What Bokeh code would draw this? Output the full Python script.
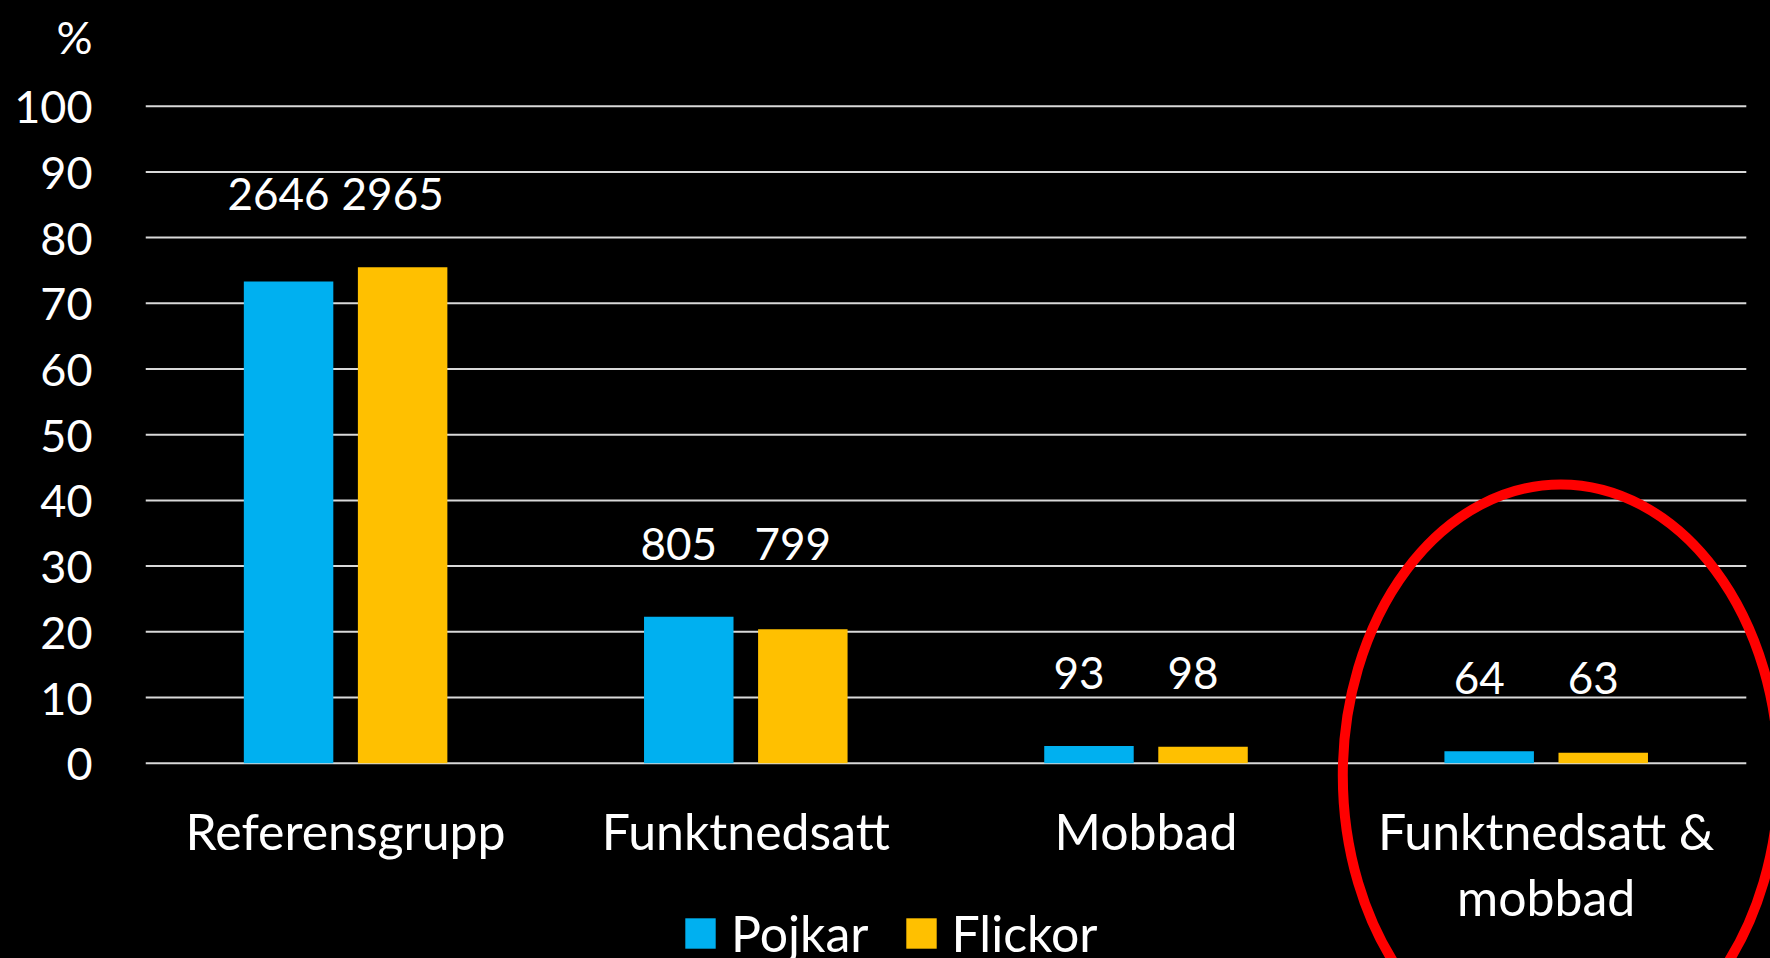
import numpy as np
from bokeh.plotting import figure
from bokeh.models import Range1d, FixedTicker, Legend, LegendItem
from bokeh.core.properties import value
from bokeh.embed import file_html
from bokeh.resources import INLINE

# ---------------- data ----------------
categories = ["Referensgrupp", "Funktnedsatt", "Mobbad", "Funktnedsatt &\nmobbad"]
series_names = ["Pojkar", "Flickor"]
pojkar_pct = [73.3, 22.3, 2.6, 1.8]
flickor_pct = [75.5, 20.4, 2.5, 1.6]
pojkar_n = [2646, 805, 93, 64]
flickor_n = [2965, 799, 98, 63]
y_ticks = [0, 10, 20, 30, 40, 50, 60, 70, 80, 90, 100]
y_unit_label = "%"
highlighted = "Funktnedsatt &\nmobbad"

# ---------------- layout / style ----------------
W, H = 1770, 958
LEFT = 145
PX_PER_UNIT = 6.57
ZERO_Y = 762.7          # canvas px of y=0
CAT_PX = 400.2          # px per category
BAR_W = 0.2236
DODGE = 0.1425
UNIT_POS = 110.5        # axis position of the "%" unit label
FONT = "Lato"
BLUE = "#00B0F0"
ORANGE = "#FFC000"
GRID = "#D9D9D9"

y_range = Range1d(-(H - ZERO_Y) / PX_PER_UNIT, ZERO_Y / PX_PER_UNIT)
x_range = Range1d(0, (W - LEFT) / CAT_PX)

p = figure(width=W, height=H, x_range=x_range, y_range=y_range,
           output_backend="svg", toolbar_location=None,
           x_axis_location=None, y_axis_location="left",
           min_border_left=LEFT, min_border_right=0,
           min_border_top=0, min_border_bottom=0,
           background_fill_color="black", border_fill_color="black",
           outline_line_color=None)

p.xgrid.visible = False
p.ygrid.visible = False

xc = np.arange(len(categories)) + 0.5

# gridlines limited to the category span
p.segment(x0=[0] * len(y_ticks), x1=[len(categories)] * len(y_ticks),
          y0=y_ticks, y1=y_ticks, line_color=GRID, line_width=2)

r_p = p.vbar(x=xc - DODGE, top=pojkar_pct, width=BAR_W, fill_color=BLUE, line_color=None)
r_f = p.vbar(x=xc + DODGE, top=flickor_pct, width=BAR_W, fill_color=ORANGE, line_color=None)

# counts above bars
group_max = np.maximum(pojkar_pct, flickor_pct)
p.text(x=np.concatenate([xc - DODGE, xc + DODGE]),
       y=np.concatenate([group_max, group_max]),
       text=[str(n) for n in pojkar_n + flickor_n],
       x_offset=-10, y_offset=-73, text_align="center", text_baseline="middle",
       text_color="white", text_font=value(FONT), text_font_size="44px")

# category labels
p.text(x=xc, y=[0] * len(categories), text=categories, y_offset=38,
       text_align="center", text_baseline="top", text_line_height=1.1,
       text_color="white", text_font=value(FONT), text_font_size="50px")

# red highlight ellipse around the highlighted category
hi = categories.index(highlighted) + 0.5
p.ellipse(x=[hi + 0.0365], y=[-1.87], width=1.0895, height=88.6,
          fill_color=None, line_color="#FF0000", line_width=10)

# y axis (unit "%" shown as the topmost label)
ax = p.yaxis[0]
ax.ticker = FixedTicker(ticks=y_ticks + [UNIT_POS])
ax.major_label_overrides = {UNIT_POS: y_unit_label}
ax.axis_line_color = None
ax.major_tick_line_color = None
ax.minor_tick_line_color = None
ax.major_tick_out = 0
ax.major_tick_in = 0
ax.major_label_standoff = 53
ax.major_label_text_color = "white"
ax.major_label_text_font = FONT
ax.major_label_text_font_size = "45px"

legend = Legend(items=[LegendItem(label=series_names[0], renderers=[r_p]),
                       LegendItem(label=series_names[1], renderers=[r_f])],
                orientation="horizontal", location=(536, -5),
                glyph_width=38, glyph_height=38, label_height=38,
                label_standoff=12, spacing=33, padding=0, margin=0,
                border_line_color=None, background_fill_alpha=0,
                label_text_color="white", label_text_font=FONT,
                label_text_font_size="50px")
p.add_layout(legend)

html = file_html(p, INLINE)
html = html.replace("<head>", "<head><style>html,body{background:#000;margin:0;padding:0;overflow:hidden;}</style>", 1)
open("out.html", "w").write(html)
